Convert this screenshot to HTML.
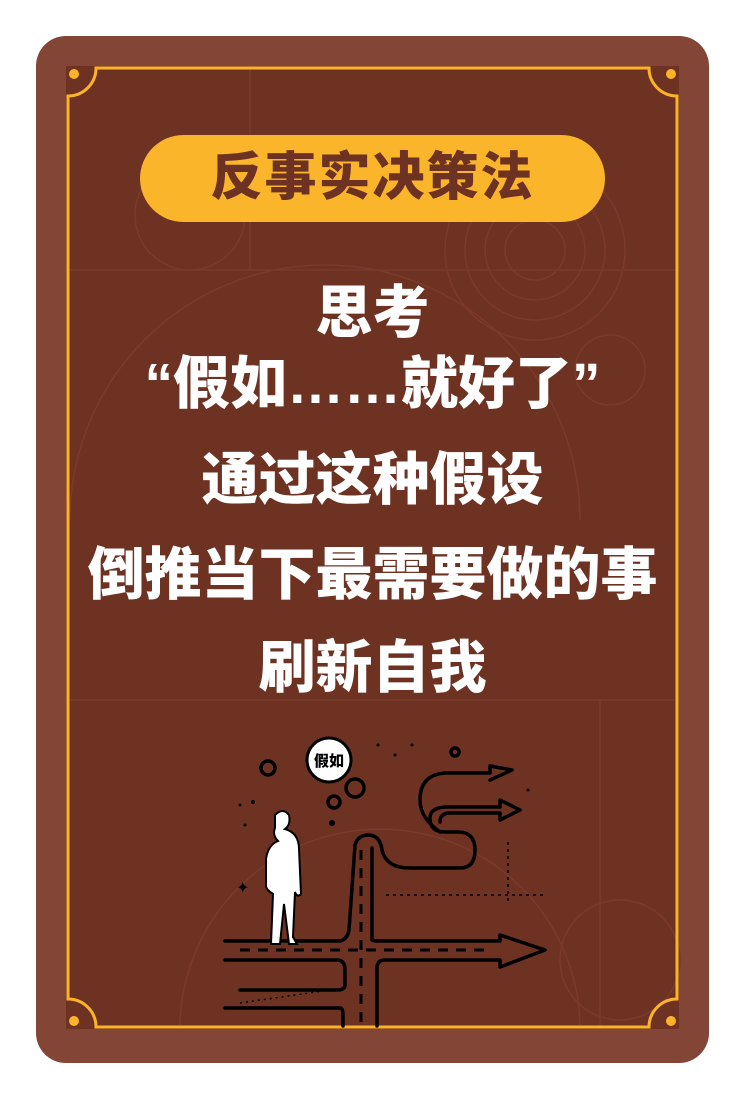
<!DOCTYPE html>
<html><head><meta charset="utf-8">
<style>
html,body{margin:0;padding:0;background:#fff;}
body{width:745px;height:1099px;position:relative;overflow:hidden;font-family:"Liberation Sans","Noto Sans CJK SC",sans-serif;}
.card{position:absolute;left:36px;top:36px;width:673px;height:1027px;background:#834536;border-radius:30px;}
.panel{position:absolute;left:66px;top:66px;width:613px;height:963px;background:#6e3222;}
.pill{position:absolute;left:140px;top:135px;width:465px;height:87px;border-radius:44px;background:#fbb52b;color:#6e3222;font-size:52px;font-weight:900;text-align:center;line-height:87px;letter-spacing:2px;}
.line{position:absolute;left:0;width:745px;text-align:center;color:#fff;font-weight:900;font-size:57px;line-height:60px;}
</style></head><body>
<div class="card"></div>
<div class="panel"></div>
<svg width="745" height="1099" style="position:absolute;left:0;top:0">
 <g stroke="#7b3a2a" stroke-width="1.5" fill="none">
  <circle cx="190" cy="215" r="55"/><circle cx="535" cy="250" r="90"/><circle cx="535" cy="250" r="70"/><circle cx="535" cy="250" r="50"/><circle cx="535" cy="250" r="30"/>
  <circle cx="610" cy="370" r="35"/><path d="M70 520 A240 240 0 0 1 580 520"/><path d="M180 1029 A200 200 0 0 1 580 1029"/>
  <line x1="66" y1="270" x2="679" y2="270"/><line x1="66" y1="700" x2="679" y2="700"/><line x1="250" y1="66" x2="250" y2="270"/><line x1="600" y1="700" x2="600" y2="1029"/>
  <circle cx="620" cy="960" r="60"/>
 </g>
 <g fill="none" stroke="#fbb42a" stroke-width="3">
  <path d="M96 68 H649 A28 28 0 0 0 677 96 V999 A28 28 0 0 0 649 1027 H96 A28 28 0 0 0 68 999 V96 A28 28 0 0 0 96 68 Z"/>
 </g>
 <g fill="#fbb42a"><circle cx="74" cy="74" r="5"/><circle cx="671" cy="74" r="5"/><circle cx="74" cy="1021" r="5"/><circle cx="671" cy="1021" r="5"/></g>
</svg>
<div class="pill">反事实决策法</div>
<div class="line" style="top:283px">思考</div>
<div class="line" style="top:354px">“假如……就好了”</div>
<div class="line" style="top:450px">通过这种假设</div>
<div class="line" style="top:545px">倒推当下最需要做的事</div>
<div class="line" style="top:638px">刷新自我</div>
<svg width="745" height="1099" style="position:absolute;left:0;top:0">
 <g fill="none" stroke="#000" stroke-width="3.5" stroke-linecap="round" stroke-linejoin="round">
  <path d="M225 941 H338 Q347 941 349 930 L355 845 Q358 835 368 835 Q380 835 382 850 Q386 868 410 868 H460 Q475 868 475 850 Q475 832 458 832 H445 Q430 832 430 818 Q430 808 445 807 H500 V800 L520 810 L500 820 V813 H450 Q440 813 440 822"/>
  <path d="M372 848 L372 940 Q374 941 378 941 H500 V935 L545 950 L500 967 V960 H385 Q377 960 377 968 V1026"/>
  <path d="M225 960 H337 Q345 960 345 970 V985 Q345 990 337 990 H240"/>
  <path d="M225 1008 H340 Q343 1008 343 1015 V1026"/>
  <path d="M440 832 Q420 818 420 800 Q420 775 445 773 H490 V766 L512 770 L490 780"/>
  <circle cx="268" cy="768" r="7"/><circle cx="355" cy="788" r="9"/><circle cx="334" cy="802" r="6"/><circle cx="455" cy="752" r="4"/>
 </g>
 <g stroke="#000" stroke-width="3" stroke-dasharray="10 8"><line x1="240" y1="950" x2="490" y2="950"/><line x1="361" y1="850" x2="361" y2="1026"/></g>
 <g stroke="#000" stroke-width="1.5" stroke-dasharray="3 4"><line x1="386" y1="895" x2="545" y2="895"/><line x1="508" y1="842" x2="508" y2="902"/></g>
 <g stroke="#000" stroke-width="1.5"><line x1="240" y1="1003" x2="330" y2="990" stroke-dasharray="2 4"/></g>
 <path d="M275 815 q8-8 14 0 q2 10-4 14 q14 4 14 20 l2 45 q-4 4-6-2 l-2 45 l4 7 h-8 l-5-40 l-4 40 h-9 l2-50 q-8-5-7-10 l0-25 q2-14 12-18 q-6-6-3-13z" fill="#fff" stroke="#000" stroke-width="2"/>
 <circle cx="329" cy="760" r="22" fill="#fff" stroke="#000" stroke-width="3"/>
 <text x="329" y="766" font-size="15" font-weight="900" text-anchor="middle" fill="#000" font-family="Liberation Sans, Noto Sans CJK SC, sans-serif">假如</text>
 <g fill="#000"><circle cx="253" cy="802" r="2"/><circle cx="240" cy="805" r="1.5"/><circle cx="332" cy="823" r="3"/><circle cx="395" cy="755" r="1.5"/><circle cx="378" cy="745" r="1.5"/><circle cx="412" cy="745" r="1.5"/><circle cx="528" cy="790" r="1.5"/><circle cx="245" cy="825" r="1.5"/></g>
 <text x="236" y="893" font-size="16" fill="#000" font-family="DejaVu Sans, sans-serif">✦</text>
</svg>
</body></html>
